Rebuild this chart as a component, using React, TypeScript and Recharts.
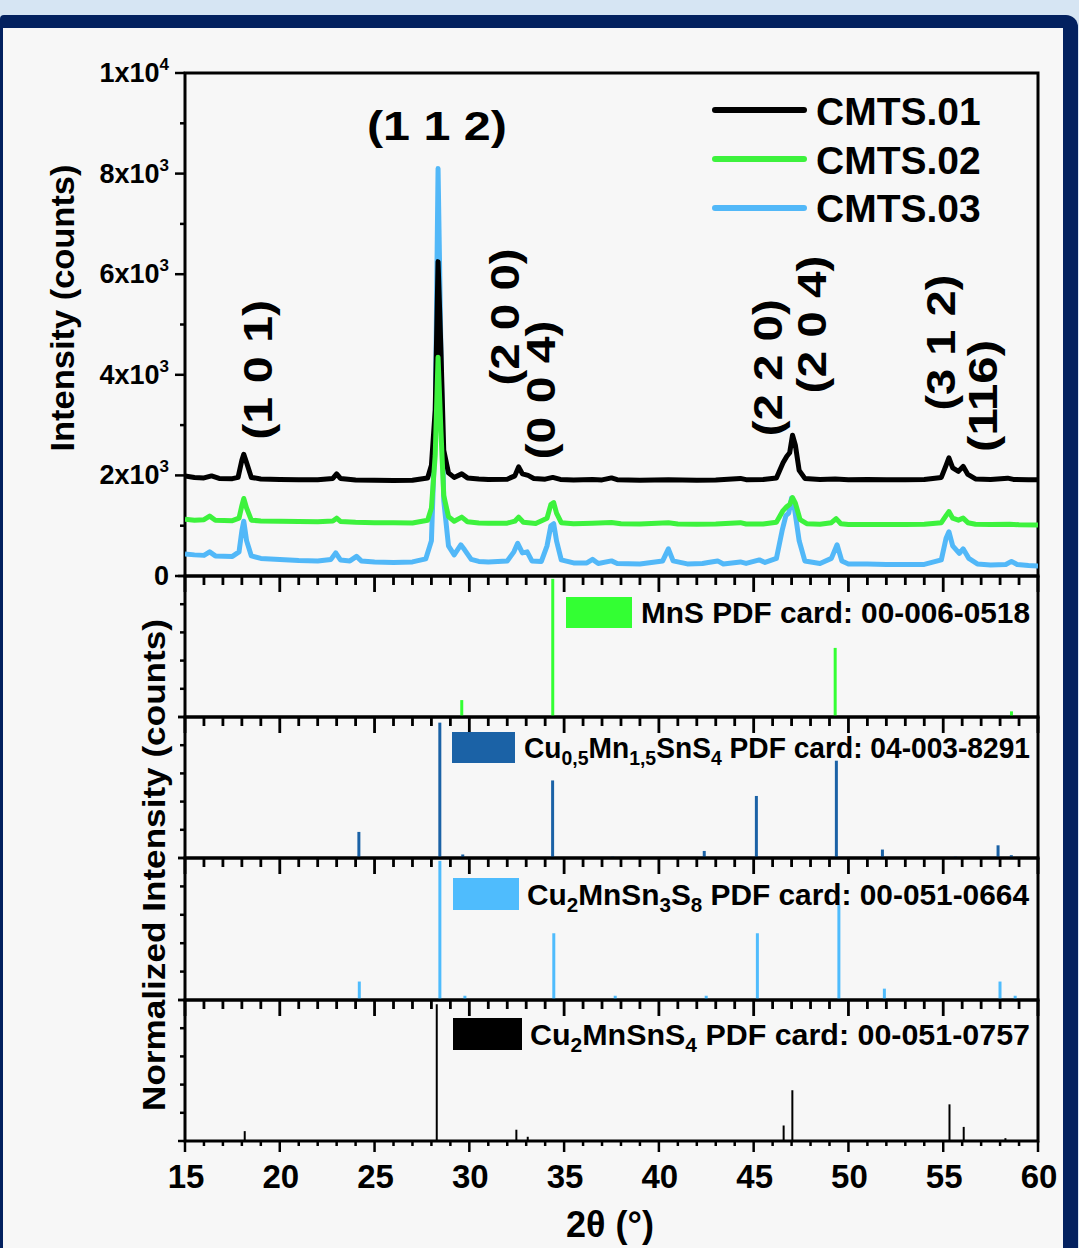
import React from 'react';
import { ComposedChart, BarChart, Line, Bar, Scatter, XAxis, YAxis, ReferenceArea, Legend } from 'recharts';

const FONT = '"Liberation Sans", Arial, Helvetica, sans-serif';
const PAGE_W = 1079;
const PAGE_H = 1248;

// ---------------- data ----------------
const THETA_DOMAIN: [number, number] = [15, 60];
const THETA_TICKS = [15, 16, 17, 18, 19, 20, 21, 22, 23, 24, 25, 26, 27, 28, 29, 30, 31, 32, 33, 34, 35, 36, 37, 38, 39, 40, 41, 42, 43, 44, 45, 46, 47, 48, 49, 50, 51, 52, 53, 54, 55, 56, 57, 58, 59, 60];
const THETA_LABELS = [15, 20, 25, 30, 35, 40, 45, 50, 55, 60];

const MAIN_Y_TICKS = [0, 1000, 2000, 3000, 4000, 5000, 6000, 7000, 8000, 9000, 10000];
const MAIN_Y_LABELS = [
  { value: 0, base: '0', exp: '' },
  { value: 2000, base: '2x10', exp: '3' },
  { value: 4000, base: '4x10', exp: '3' },
  { value: 6000, base: '6x10', exp: '3' },
  { value: 8000, base: '8x10', exp: '3' },
  { value: 10000, base: '1x10', exp: '4' },
];
const PANEL_Y_TICKS = [0, 0.2, 0.4, 0.6, 0.8, 1];

// measured patterns: [2theta, counts]
const CMTS01: [number, number][] = [
  [15.0, 1990], [15.5, 1960], [16.0, 1950], [16.4, 1990], [16.8, 1940], [17.5, 1935], [17.8, 1960],
  [18.0, 2300], [18.1, 2420], [18.25, 2250], [18.5, 1960], [19.0, 1930], [20.0, 1920], [21.0, 1915],
  [22.0, 1915], [22.8, 1940], [23.0, 2030], [23.2, 1940], [24.0, 1910], [25.0, 1905], [26.0, 1900],
  [27.0, 1905], [27.8, 1950], [28.0, 2200], [28.2, 3300], [28.35, 6250], [28.5, 4500], [28.65, 2500],
  [28.9, 2050], [29.2, 1960], [29.6, 2030], [29.9, 1950], [30.5, 1930], [31.0, 1920], [32.0, 1925],
  [32.4, 1990], [32.6, 2170], [32.8, 2030], [33.1, 2000], [33.4, 1940], [34.0, 1925], [34.4, 1960],
  [34.8, 1920], [35.5, 1910], [36.5, 1920], [37.0, 1910], [37.5, 1950], [37.8, 1915], [39.0, 1905],
  [40.5, 1915], [42.0, 1905], [43.0, 1910], [44.3, 1940], [44.6, 1915], [45.5, 1920], [46.2, 1950],
  [46.55, 2250], [46.75, 2380], [46.9, 2450], [47.05, 2800], [47.2, 2600], [47.4, 2100], [47.7, 1940],
  [48.5, 1920], [49.3, 1930], [50.0, 1915], [51.0, 1920], [52.0, 1915], [53.0, 1915], [54.0, 1920],
  [54.9, 1960], [55.15, 2200], [55.3, 2350], [55.5, 2150], [55.8, 2080], [56.05, 2180], [56.3, 2020],
  [56.7, 1930], [57.5, 1920], [58.4, 1945], [58.7, 1920], [59.5, 1915], [60.0, 1915],
];

const CMTS02: [number, number][] = [
  [15.0, 1130], [15.5, 1110], [16.0, 1120], [16.3, 1190], [16.6, 1110], [17.5, 1100], [17.85, 1150],
  [18.0, 1400], [18.1, 1540], [18.25, 1350], [18.5, 1110], [19.0, 1095], [20.0, 1090], [21.0, 1085],
  [22.0, 1080], [22.8, 1095], [23.0, 1150], [23.2, 1085], [24.0, 1070], [25.0, 1060], [26.0, 1060],
  [27.0, 1055], [27.8, 1110], [28.0, 1350], [28.2, 2400], [28.35, 4350], [28.5, 2900], [28.65, 1600],
  [28.9, 1180], [29.2, 1090], [29.6, 1170], [29.9, 1080], [30.5, 1055], [31.0, 1050], [32.0, 1050],
  [32.4, 1090], [32.6, 1170], [32.85, 1070], [33.5, 1045], [34.1, 1150], [34.3, 1420], [34.45, 1460],
  [34.6, 1250], [34.85, 1060], [35.5, 1040], [36.5, 1050], [37.5, 1065], [38.0, 1040], [39.0, 1035],
  [40.5, 1060], [41.0, 1035], [42.0, 1030], [43.0, 1035], [44.3, 1060], [44.6, 1035], [45.5, 1035],
  [46.2, 1070], [46.55, 1300], [46.75, 1380], [46.9, 1420], [47.05, 1560], [47.2, 1450], [47.45, 1120],
  [47.8, 1040], [48.5, 1030], [49.1, 1060], [49.35, 1140], [49.6, 1040], [50.0, 1025], [51.0, 1025],
  [52.0, 1025], [53.0, 1025], [54.0, 1030], [54.9, 1060], [55.15, 1200], [55.3, 1280], [55.5, 1150],
  [55.8, 1110], [56.05, 1150], [56.3, 1060], [56.7, 1030], [57.5, 1025], [58.5, 1030], [59.0, 1020],
  [60.0, 1015],
];

const CMTS03: [number, number][] = [
  [15.0, 440], [15.5, 420], [16.0, 410], [16.3, 480], [16.6, 400], [17.5, 390], [17.85, 480],
  [18.0, 900], [18.1, 1090], [18.25, 700], [18.5, 400], [19.0, 350], [20.0, 330], [21.0, 310],
  [22.0, 300], [22.7, 330], [22.95, 460], [23.2, 320], [23.7, 300], [24.05, 390], [24.3, 300],
  [25.0, 280], [26.0, 270], [27.0, 280], [27.7, 340], [28.0, 700], [28.2, 3000], [28.35, 8100],
  [28.5, 4500], [28.65, 1500], [28.9, 600], [29.2, 420], [29.55, 620], [29.75, 520], [30.1, 330],
  [30.5, 290], [31.0, 280], [32.0, 300], [32.35, 480], [32.55, 650], [32.8, 460], [33.05, 480],
  [33.3, 300], [33.8, 290], [34.1, 600], [34.3, 1000], [34.45, 1040], [34.6, 700], [34.85, 320],
  [35.5, 260], [36.2, 260], [36.5, 330], [36.8, 250], [37.5, 300], [37.8, 250], [39.0, 240],
  [40.2, 300], [40.5, 540], [40.75, 300], [41.5, 240], [42.3, 250], [42.6, 270], [43.1, 300],
  [43.4, 240], [44.3, 280], [44.6, 250], [45.3, 320], [45.6, 270], [46.2, 350], [46.5, 900],
  [46.7, 1200], [46.85, 1250], [47.0, 1550], [47.15, 1350], [47.4, 700], [47.7, 300], [48.5, 250],
  [49.1, 350], [49.4, 620], [49.65, 300], [50.0, 240], [51.0, 240], [52.0, 230], [53.0, 230],
  [54.0, 230], [54.9, 320], [55.15, 750], [55.3, 880], [55.5, 600], [55.85, 450], [56.05, 540],
  [56.35, 350], [56.8, 240], [57.5, 220], [58.3, 230], [58.6, 290], [58.9, 230], [59.5, 210],
  [60.0, 200],
];

// reference cards: [2theta, normalized intensity]
const MNS_CARD: [number, number][] = [[29.6, 0.12], [34.4, 0.98], [49.3, 0.49], [58.6, 0.04]];
const CU05_CARD: [number, number][] = [
  [24.18, 0.185], [28.45, 0.96], [29.66, 0.025], [34.4, 0.55], [37.57, 0.01], [42.4, 0.05],
  [45.15, 0.44], [49.37, 0.69], [51.8, 0.06], [55.65, 0.01], [57.9, 0.09], [58.6, 0.02],
];
const CU2SN3_CARD: [number, number][] = [
  [24.2, 0.13], [28.45, 0.98], [29.77, 0.03], [34.46, 0.47], [37.7, 0.03], [42.5, 0.03],
  [45.2, 0.47], [49.5, 0.67], [51.9, 0.08], [55.8, 0.006], [58.0, 0.13], [58.8, 0.03],
];
const CU2SN_CARD: [number, number][] = [
  [18.17, 0.07], [28.3, 0.97], [32.5, 0.08], [33.1, 0.03], [46.6, 0.11], [47.06, 0.36],
  [55.35, 0.26], [56.1, 0.1], [58.3, 0.02],
];

// Miller-index annotations: [2theta, counts] of label centre
const HKL_LABELS = [
  { x: 28.29, y: 8950, text: '(1 1 2)', rotate: false, len: 140 },
  { x: 18.85, y: 4100, text: '(1 0 1)', rotate: true, len: 140 },
  { x: 31.88, y: 5150, text: '(2 0 0)', rotate: true, len: 137 },
  { x: 33.78, y: 3700, text: '(0 0 4)', rotate: true, len: 139 },
  { x: 45.75, y: 4140, text: '(2 2 0)', rotate: true, len: 137 },
  { x: 48.07, y: 5000, text: '(2 0 4)', rotate: true, len: 138 },
  { x: 54.87, y: 4640, text: '(3 1 2)', rotate: true, len: 136 },
  { x: 57.09, y: 3580, text: '(116)', rotate: true, len: 112 },
];

const SERIES = [
  { name: 'CMTS.01', color: '#000000', points: CMTS01 },
  { name: 'CMTS.02', color: '#3df23d', points: CMTS02 },
  { name: 'CMTS.03', color: '#52b8f8', points: CMTS03 },
];
// draw order: blue, black, green
const DRAW_ORDER = [2, 0, 1];

const toXY = (arr: [number, number][]) => arr.map(([x, y]) => ({ x, y }));
const toXH = (arr: [number, number][]) => arr.map(([x, h]) => ({ x, h }));

// ---------------- ticks ----------------
const MainYTick = (p: any) => {
  const { x, y, payload } = p;
  const lab = MAIN_Y_LABELS.find((l) => l.value === payload.value);
  return (
    <g>
      <line x1={x - (lab ? 10 : 5)} x2={x} y1={y} y2={y} stroke="#000" strokeWidth={2.5} />
      {lab && (
        <text x={x - 16} y={y + 9} textAnchor="end" fontFamily={FONT} fontWeight="bold" fontSize={27} fill="#000">
          <tspan>{lab.base}</tspan>
          {lab.exp && (
            <tspan dy={-12} fontSize={17}>
              {lab.exp}
            </tspan>
          )}
        </text>
      )}
    </g>
  );
};

const PanelYTick = (p: any) => {
  const { x, y, payload } = p;
  const edge = payload.value === 0 || payload.value === 1;
  return <line x1={x - (edge ? 7 : 5)} x2={x} y1={y} y2={y} stroke="#000" strokeWidth={2.5} />;
};

const TopTick = (p: any) => {
  const { x, y, payload } = p;
  const major = THETA_LABELS.includes(payload.value);
  return <line x1={x} x2={x} y1={y} y2={y + (major ? 16 : 9)} stroke="#000" strokeWidth={2.8} />;
};

const BottomTick = (p: any) => {
  const { x, y, payload } = p;
  const major = THETA_LABELS.includes(payload.value);
  return (
    <g>
      <line x1={x} x2={x} y1={y} y2={y + (major ? 11 : 5)} stroke="#000" strokeWidth={2.5} />
      {major && (
        <text x={x + 1} y={y + 47} textAnchor="middle" fontFamily={FONT} fontWeight="bold" fontSize={33} fill="#000">
          {payload.value}
        </text>
      )}
    </g>
  );
};

const HklShape = (p: any) => {
  const { cx, cy, payload } = p;
  return (
    <text
      x={cx}
      y={cy}
      textAnchor="middle"
      dominantBaseline="central"
      fontFamily={FONT}
      fontWeight="bold"
      fontSize={41}
      fill="#000"
      textLength={payload.len}
      lengthAdjust="spacingAndGlyphs"
      transform={payload.rotate ? `rotate(-90 ${cx} ${cy})` : undefined}
    >
      {payload.text}
    </text>
  );
};

const MainLegend = () => (
  <svg width={330} height={150} style={{ overflow: 'visible' }}>
    {SERIES.map((s, i) => (
      <g key={s.name}>
        <line x1={17} x2={106} y1={25 + i * 49} y2={25 + i * 49} stroke={s.color} strokeWidth={6} strokeLinecap="round" />
        <text x={118} y={40 + i * 48.5} fontFamily={FONT} fontWeight="bold" fontSize={39} fill="#000">
          {s.name}
        </text>
      </g>
    ))}
  </svg>
);

type Seg = [string, boolean];

const PanelLegend = (props: { color: string; segs: Seg[]; rectW: number; textX: number; textEnd: number; rectTop: number; rectH: number; baseline: number }) => {
  const { color, segs, rectW, textX, textEnd, rectTop, rectH, baseline } = props;
  let sub = false;
  const spans: any[] = [];
  segs.forEach(([t, s], i) => {
    let dy = 0;
    if (s && !sub) dy = 7;
    if (!s && sub) dy = -7;
    sub = s;
    spans.push(
      <tspan key={i} dy={dy} fontSize={s ? 20 : 29}>
        {t}
      </tspan>
    );
  });
  return (
    <svg width={640} height={60} style={{ overflow: 'visible' }}>
      <rect x={0} y={rectTop} width={rectW} height={rectH} fill={color} />
      <text
        x={textX}
        y={baseline}
        fontFamily={FONT}
        fontWeight="bold"
        fill="#000"
        textLength={textEnd - textX}
        lengthAdjust="spacingAndGlyphs"
        style={{ whiteSpace: 'pre' }}
      >
        {spans}
      </text>
    </svg>
  );
};

const PANELS = [
  {
    key: 'mns', data: MNS_CARD, color: '#33ff33', barSize: 3, top: 576, bottom: 717, bottomAxis: false,
    legendLeft: 566, legendTop: 590,
    legend: { segs: [['MnS PDF card: 00-006-0518', false]] as Seg[], rectW: 66, rectTop: 7, rectH: 31, textX: 75, textEnd: 464, baseline: 33 },
  },
  {
    key: 'cu05', data: CU05_CARD, color: '#1b62a6', barSize: 3, top: 717, bottom: 858, bottomAxis: false,
    legendLeft: 452, legendTop: 725,
    legend: {
      segs: [['Cu', false], ['0,5', true], ['Mn', false], ['1,5', true], ['SnS', false], ['4', true], [' PDF card: 04-003-8291', false]] as Seg[],
      rectW: 63, rectTop: 7, rectH: 31, textX: 72, textEnd: 578, baseline: 33,
    },
  },
  {
    key: 'cu2sn3', data: CU2SN3_CARD, color: '#4fbcfd', barSize: 3, top: 858, bottom: 1000, bottomAxis: false,
    legendLeft: 453, legendTop: 871,
    legend: {
      segs: [['Cu', false], ['2', true], ['MnSn', false], ['3', true], ['S', false], ['8', true], [' PDF card: 00-051-0664', false]] as Seg[],
      rectW: 66, rectTop: 7, rectH: 32, textX: 74, textEnd: 576, baseline: 34,
    },
  },
  {
    key: 'cu2sn', data: CU2SN_CARD, color: '#000000', barSize: 2, top: 1000, bottom: 1141, bottomAxis: true,
    legendLeft: 453, legendTop: 1011,
    legend: {
      segs: [['Cu', false], ['2', true], ['MnSnS', false], ['4', true], [' PDF card: 00-051-0757', false]] as Seg[],
      rectW: 69, rectTop: 7, rectH: 32, textX: 77, textEnd: 577, baseline: 34,
    },
  },
];

const layer: React.CSSProperties = { position: 'absolute', left: 0, top: 0 };

export default function App() {
  return (
    <div style={{ position: 'absolute', left: 0, top: 0, width: PAGE_W, height: PAGE_H, background: '#d6e5f3', overflow: 'hidden' }}>
      <div style={{ position: 'absolute', left: 0, top: 15, width: 1078, height: 1250, background: '#03215f', borderTopLeftRadius: 4, borderTopRightRadius: 12 }} />
      <div style={{ position: 'absolute', left: 3, top: 28, width: 1060, height: 1230, background: '#f7f7f7' }} />

      {/* main XRD patterns */}
      <div style={layer}>
        <ComposedChart width={PAGE_W} height={PAGE_H} margin={{ top: 73, right: 41, bottom: PAGE_H - 576, left: 125 }}>
          <XAxis type="number" dataKey="x" domain={THETA_DOMAIN} hide allowDataOverflow />
          <YAxis
            type="number"
            domain={[0, 10000]}
            ticks={MAIN_Y_TICKS}
            interval={0}
            width={60}
            tickSize={0}
            tickMargin={0}
            axisLine={false}
            tickLine={false}
            tick={<MainYTick />}
            allowDataOverflow
          />
          <ReferenceArea x1={15} x2={60} y1={0} y2={10000} fill="none" fillOpacity={0} stroke="#000" strokeWidth={3} ifOverflow="visible" />
          {DRAW_ORDER.map((i) => (
            <Line
              key={SERIES[i].name}
              name={SERIES[i].name}
              data={toXY(SERIES[i].points)}
              dataKey="y"
              type="linear"
              stroke={SERIES[i].color}
              strokeWidth={5}
              strokeLinejoin="round"
              dot={false}
              activeDot={false}
              isAnimationActive={false}
            />
          ))}
          <Scatter data={HKL_LABELS} dataKey="y" shape={<HklShape />} isAnimationActive={false} legendType="none" />
          <Legend
            layout="horizontal"
            align="center"
            verticalAlign="middle"
            wrapperStyle={{ position: 'absolute', left: 698, top: 85, width: 330, height: 150 }}
            content={() => <MainLegend />}
          />
        </ComposedChart>
      </div>

      {/* reference PDF cards */}
      {PANELS.map((pn) => (
        <div key={pn.key} style={layer}>
          <BarChart
            width={PAGE_W}
            height={PAGE_H}
            data={toXH(pn.data)}
            margin={{ top: pn.top - 2, right: 41, bottom: PAGE_H - pn.bottom - (pn.bottomAxis ? 60 : 0), left: 125 }}
          >
            <XAxis
              xAxisId="t"
              type="number"
              dataKey="x"
              domain={THETA_DOMAIN}
              orientation="top"
              height={2}
              ticks={THETA_TICKS}
              interval={0}
              tickSize={0}
              tickMargin={0}
              axisLine={false}
              tickLine={false}
              tick={<TopTick />}
              allowDataOverflow
            />
            {pn.bottomAxis && (
              <XAxis
                xAxisId="b"
                type="number"
                dataKey="x"
                domain={THETA_DOMAIN}
                orientation="bottom"
                height={60}
                ticks={THETA_TICKS}
                interval={0}
                tickSize={0}
                tickMargin={0}
                axisLine={false}
                tickLine={false}
                tick={<BottomTick />}
                allowDataOverflow
              />
            )}
            <YAxis
              yAxisId="l"
              type="number"
              domain={[0, 1]}
              ticks={PANEL_Y_TICKS}
              interval={0}
              width={60}
              tickSize={0}
              tickMargin={0}
              axisLine={false}
              tickLine={false}
              tick={<PanelYTick />}
              allowDataOverflow
            />
            <Bar xAxisId="t" yAxisId="l" dataKey="h" fill={pn.color} barSize={pn.barSize} isAnimationActive={false} />
            <ReferenceArea xAxisId="t" yAxisId="l" x1={15} x2={60} y1={0} y2={1} fill="none" fillOpacity={0} stroke="#000" strokeWidth={3} ifOverflow="visible" />
            <Legend
              layout="horizontal"
              align="center"
              verticalAlign="middle"
              wrapperStyle={{ position: 'absolute', left: pn.legendLeft, top: pn.legendTop, width: 640, height: 60 }}
              content={() => <PanelLegend color={pn.color} {...pn.legend} />}
            />
          </BarChart>
        </div>
      ))}

      {/* axis titles */}
      <svg width={PAGE_W} height={PAGE_H} style={{ position: 'absolute', left: 0, top: 0, pointerEvents: 'none' }}>
        <text
          x={74}
          y={308}
          transform="rotate(-90 74 308)"
          textAnchor="middle"
          fontFamily={FONT}
          fontWeight="bold"
          fontSize={33}
          textLength={287}
          lengthAdjust="spacingAndGlyphs"
          fill="#000"
        >
          Intensity (counts)
        </text>
        <text
          x={165}
          y={865}
          transform="rotate(-90 165 865)"
          textAnchor="middle"
          fontFamily={FONT}
          fontWeight="bold"
          fontSize={32}
          textLength={492}
          lengthAdjust="spacingAndGlyphs"
          fill="#000"
        >
          Normalized Intensity (counts)
        </text>
        <text x={610} y={1237} textAnchor="middle" fontFamily={FONT} fontWeight="bold" fontSize={36} fill="#000">
          2θ (°)
        </text>
      </svg>
    </div>
  );
}
